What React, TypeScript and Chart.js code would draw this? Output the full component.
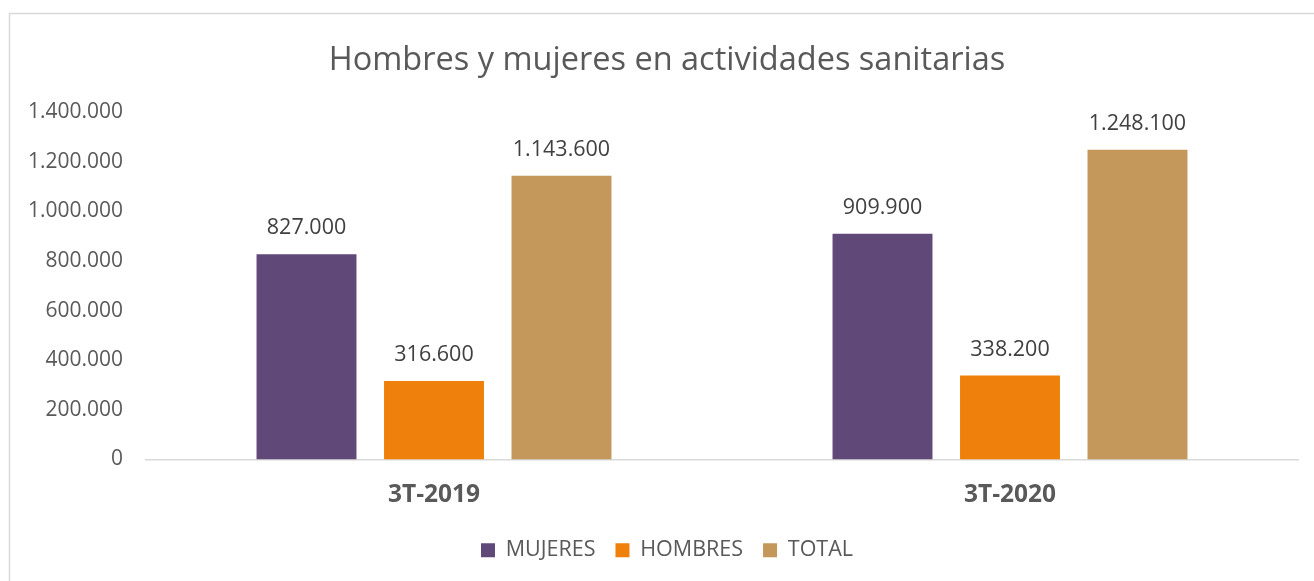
import React, { useEffect, useRef } from "react";
import { Chart, registerables } from "chart.js";

Chart.register(...registerables);

const categories = ["3T-2019", "3T-2020"];
const seriesNames = ["MUJERES", "HOMBRES", "TOTAL"];
const mujeres = [827000, 909900];
const hombres = [316600, 338200];
const total = [1143600, 1248100];
const seriesColors = ["#604878", "#F0800C", "#C3985A"];
const yTicks = [0, 200000, 400000, 600000, 800000, 1000000, 1200000, 1400000];
const titleText = "Hombres y mujeres en actividades sanitarias";

const FONT = "'Open Sans', 'Noto Sans', sans-serif";

function fmt(v: number): string {
  return String(Math.round(v)).replace(/\B(?=(\d{3})+(?!\d))/g, ".");
}

const framePlugin = {
  id: "frame",
  beforeDraw(chart: any) {
    const ctx = chart.ctx;
    ctx.save();
    ctx.fillStyle = "#FFFFFF";
    ctx.fillRect(0, 0, chart.width, chart.height);
    ctx.strokeStyle = "#D9D9D9";
    ctx.lineWidth = 1.5;
    ctx.strokeRect(9.5, 13.5, chart.width + 20, chart.height + 20);
    ctx.restore();
  },
};

const labelPlugin = {
  id: "barLabels",
  afterDatasetsDraw(chart: any) {
    const ctx = chart.ctx;
    ctx.save();
    ctx.font = `21.5px ${FONT}`;
    ctx.fillStyle = "#404040";
    ctx.textAlign = "center";
    ctx.textBaseline = "middle";
    chart.data.datasets.forEach((ds: any, i: number) => {
      const meta = chart.getDatasetMeta(i);
      meta.data.forEach((bar: any, j: number) => {
        ctx.fillText(fmt(ds.data[j]), bar.x, bar.y - 26);
      });
    });
    ctx.restore();
  },
};

export default function App() {
  const ref = useRef<HTMLCanvasElement | null>(null);
  useEffect(() => {
    if (!ref.current) return;
    const seriesData = [mujeres, hombres, total];
    const chart = new Chart(ref.current, {
      type: "bar",
      data: {
        labels: categories,
        datasets: seriesNames.map((name, i) => ({
          label: name,
          data: seriesData[i],
          backgroundColor: seriesColors[i],
          borderWidth: 0,
          categoryPercentage: 0.664,
          barPercentage: 0.784,
        })),
      },
      options: {
        animation: false,
        responsive: false,
        maintainAspectRatio: false,
        layout: { padding: { left: 26, right: 6, top: 0, bottom: 10 } },
        plugins: {
          title: {
            display: true,
            text: titleText,
            color: "#595959",
            font: { family: FONT, size: 32.5, weight: "normal" },
            padding: { top: 41, bottom: 32 },
          },
          legend: {
            position: "bottom",
            labels: {
              boxWidth: 14,
              boxHeight: 14,
              padding: 20,
              color: "#595959",
              font: { family: FONT, size: 21.5 },
            },
          },
          tooltip: { enabled: false },
        },
        scales: {
          x: {
            afterFit: (scale: any) => {
              scale.height = 60;
            },
            grid: { display: false, drawTicks: false, tickLength: 0 },
            border: { display: true, color: "#D9D9D9", width: 1.5 },
            ticks: {
              color: "#595959",
              padding: 21,
              font: { family: FONT, size: 24.5, weight: "bold" },
            },
          },
          y: {
            min: 0,
            max: 1400000,
            afterBuildTicks: (scale: any) => {
              scale.ticks = yTicks.map((v) => ({ value: v }));
            },
            afterFit: (scale: any) => {
              scale.width = 120;
            },
            grid: { display: false, drawTicks: false, tickLength: 0 },
            border: { display: false },
            ticks: {
              color: "#595959",
              padding: 23,
              font: { family: FONT, size: 21 },
              callback: (v: any) => fmt(Number(v)),
            },
          },
          yRightSpacer: {
            position: "right",
            afterFit: (scale: any) => {
              scale.width = 10;
            },
            grid: { display: false, drawTicks: false, tickLength: 0 },
            border: { display: false },
            ticks: { display: false },
          },
        },
      },
      plugins: [framePlugin, labelPlugin],
    });
    return () => chart.destroy();
  }, []);
  return (
    <div style={{ position: "absolute", left: 0, top: 0, width: 1314, height: 581 }}>
      <canvas ref={ref} width={1314} height={581} style={{ width: 1314, height: 581 }} />
    </div>
  );
}
